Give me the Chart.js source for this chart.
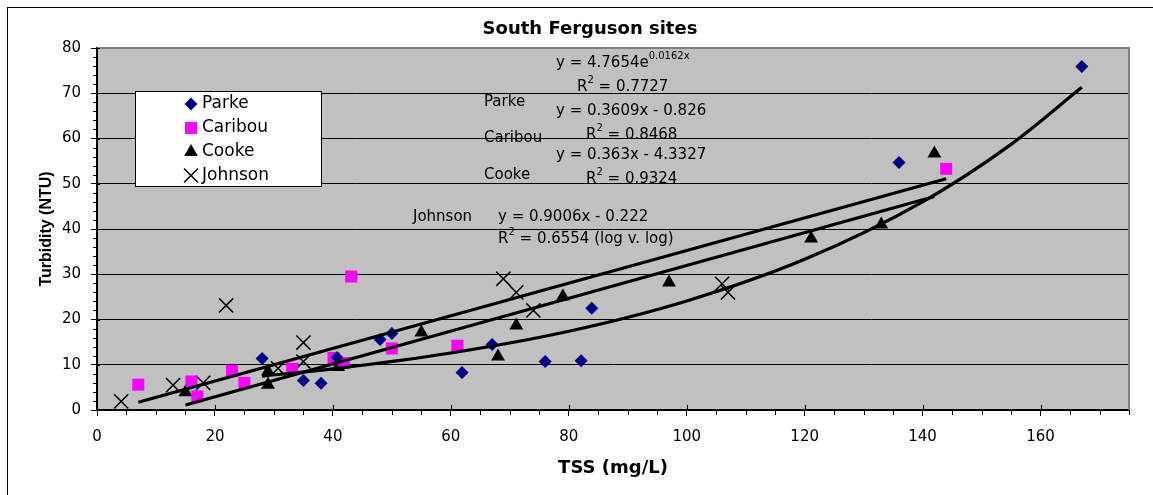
<!DOCTYPE html>
<html><head><meta charset="utf-8">
<script src="https://cdn.jsdelivr.net/npm/chart.js@4/dist/chart.umd.min.js"></script>
<style>html,body{margin:0;padding:0;background:#fff;}</style>
</head><body>
<canvas id="c" width="1153" height="495"></canvas>
<script>
// ---- data ----
const chartTitle = "South Ferguson sites";
const xTitle = "TSS (mg/L)";
const yTitle = "Turbidity (NTU)";
const seriesNames = ["Parke", "Caribou", "Cooke", "Johnson"];

const parkeX = [28, 35, 38, 40.7, 48, 50, 61.9, 67, 76, 82.1, 83.9, 136, 167];
const parkeY = [11.4, 6.5, 5.9, 11.6, 15.6, 16.9, 8.3, 14.5, 10.7, 10.9, 22.5, 54.7, 75.9];

const caribouX = [7, 16, 17, 22.9, 25, 33.1, 40.1, 41.9, 43.1, 50, 61.1, 144];
const caribouY = [5.6, 6.3, 3.0, 8.7, 6.0, 9.1, 11.5, 10.4, 29.5, 13.6, 14.2, 53.3];

const cookeX = [15, 29, 29, 40.9, 55, 68, 71.1, 79, 97, 121.1, 133, 142];
const cookeY = [3.9, 5.6, 8.5, 9.5, 17.1, 11.8, 18.7, 25.1, 28.2, 37.9, 41.0, 56.7];

const johnsonX = [4.1, 12.9, 18, 21.9, 30.7, 35, 35, 68.9, 71.1, 74, 106, 107];
const johnsonY = [1.9, 5.5, 6.0, 23.1, 9.2, 14.9, 10.7, 29.0, 26.0, 22.0, 27.9, 26.0];

// trendlines
const trendParkeX = [28, 40, 60, 80, 100, 120, 140, 155, 167];
const trendParkeY = [7.5, 9.1, 12.6, 17.4, 24.1, 33.3, 46.0, 58.7, 71.3];
const trendCaribouX = [7, 144];
const trendCaribouY = [1.7, 51.1];
const trendCookeX = [15, 142];
const trendCookeY = [1.1, 47.2];

const annotationTexts = [
  "y = 4.7654e^{0.0162x}",
  "R^{2} = 0.7727",
  "Parke",
  "y = 0.3609x - 0.826",
  "Caribou",
  "R^{2} = 0.8468",
  "y = 0.363x - 4.3327",
  "Cooke",
  "R^{2} = 0.9324",
  "Johnson",
  "y = 0.9006x - 0.222",
  "R^{2} = 0.6554 (log v. log)"
];

// ---- layout (positions of free text, in pixels) ----
const annotationPos = [
  [556, 63], [577, 87], [484, 102], [556, 111], [484, 138], [586, 135],
  [556, 155], [484, 175], [586, 179], [413, 217], [498, 217], [498, 239]
];

const pts = (xs, ys) => xs.map((x, i) => ({x: x, y: ys[i]}));

const FONT = '"DejaVu Sans", sans-serif';

function drawRich(ctx, str, x, y, size) {
  const parts = str.split(/\^\{([^}]*)\}/);
  let cx = x;
  ctx.textAlign = 'left';
  ctx.textBaseline = 'middle';
  ctx.fillStyle = '#000';
  parts.forEach((p, i) => {
    if (!p) return;
    if (i % 2 === 1) {
      ctx.font = Math.round(size * 0.68) + 'px ' + FONT;
      ctx.fillText(p, cx, y - size * 0.42);
    } else {
      ctx.font = size + 'px ' + FONT;
      ctx.fillText(p, cx, y);
    }
    cx += ctx.measureText(p).width;
  });
}

function drawMarker(ctx, style, x, y, color) {
  ctx.save();
  ctx.fillStyle = color; ctx.strokeStyle = color;
  ctx.beginPath();
  if (style === 'rectRot') {
    const r = 6.5;
    ctx.moveTo(x - r, y); ctx.lineTo(x, y - r); ctx.lineTo(x + r, y); ctx.lineTo(x, y + r); ctx.closePath(); ctx.fill();
  } else if (style === 'rect') {
    ctx.rect(x - 6, y - 6, 12, 12); ctx.fill();
  } else if (style === 'triangle') {
    ctx.moveTo(x, y - 8); ctx.lineTo(x + 6.9, y + 4); ctx.lineTo(x - 6.9, y + 4); ctx.closePath(); ctx.fill();
  } else {
    const h = 7; ctx.lineWidth = 1.5;
    ctx.moveTo(x - h, y - h); ctx.lineTo(x + h, y + h);
    ctx.moveTo(x + h, y - h); ctx.lineTo(x - h, y + h); ctx.stroke();
  }
  ctx.restore();
}

const markerStyles = ['rectRot', 'rect', 'triangle', 'crossRot'];
const markerColors = ['#000080', '#FF00FF', '#000000', '#000000'];

const deco = {
  id: 'deco',
  beforeDraw(chart) {
    const {ctx, chartArea: a} = chart;
    ctx.save();
    ctx.fillStyle = '#C0C0C0';
    ctx.fillRect(a.left, a.top, a.right - a.left, a.bottom - a.top);
    ctx.restore();
  },
  afterDraw(chart) {
    const {ctx, chartArea: a} = chart;
    const xs = chart.scales.x, ys = chart.scales.y;
    ctx.save();
    // outer frame
    ctx.strokeStyle = '#000'; ctx.lineWidth = 1;
    ctx.strokeRect(7.5, 7.5, 2000, 2000);
    // plot border top/right
    ctx.strokeStyle = '#808080'; ctx.lineWidth = 2;
    ctx.beginPath();
    ctx.moveTo(a.left, a.top); ctx.lineTo(a.right, a.top); ctx.lineTo(a.right, a.bottom);
    ctx.stroke();
    // minor ticks and inner part of major ticks
    ctx.strokeStyle = '#000'; ctx.lineWidth = 1;
    ctx.beginPath();
    for (let v = 0; v <= 175; v += 5) {
      const px = Math.round(xs.getPixelForValue(v)) + 0.5;
      if (v % 20 === 0) { ctx.moveTo(px, a.bottom - 5); ctx.lineTo(px, a.bottom); }
      else { ctx.moveTo(px, a.bottom); ctx.lineTo(px, a.bottom + 5); }
    }
    for (let v = 0; v <= 80; v += 2) {
      const py = Math.round(ys.getPixelForValue(v)) + 0.5;
      if (v % 10 === 0) { ctx.moveTo(a.left, py); ctx.lineTo(a.left + 3, py); }
      else { ctx.moveTo(a.left - 4, py); ctx.lineTo(a.left, py); }
    }
    ctx.stroke();
    // chart title
    ctx.fillStyle = '#000';
    ctx.font = 'bold 18px ' + FONT;
    ctx.textAlign = 'center'; ctx.textBaseline = 'middle';
    ctx.fillText(chartTitle, 590, 29);
    // legend
    ctx.fillStyle = '#fff';
    ctx.fillRect(136, 92, 186, 95);
    ctx.strokeStyle = '#000'; ctx.lineWidth = 1;
    ctx.strokeRect(135.5, 91.5, 186, 95);
    const rows = [104, 128, 152, 175.5];
    seriesNames.forEach((n, i) => {
      drawMarker(ctx, markerStyles[i], 191, rows[i], markerColors[i]);
      ctx.fillStyle = '#000';
      ctx.font = '17px ' + FONT;
      ctx.textAlign = 'left'; ctx.textBaseline = 'middle';
      ctx.fillText(n, 202, rows[i]);
    });
    // annotations
    annotationTexts.forEach((t, i) => drawRich(ctx, t, annotationPos[i][0], annotationPos[i][1], 15));
    ctx.restore();
  }
};

const trendStyle = {showLine: true, pointRadius: 0, borderColor: '#000', borderWidth: 3.2, fill: false, order: 0};

new Chart(document.getElementById('c'), {
  type: 'scatter',
  data: {
    datasets: [
      Object.assign({label: 'Parke trend', data: pts(trendParkeX, trendParkeY), cubicInterpolationMode: 'monotone'}, trendStyle),
      Object.assign({label: 'Caribou trend', data: pts(trendCaribouX, trendCaribouY)}, trendStyle),
      Object.assign({label: 'Cooke trend', data: pts(trendCookeX, trendCookeY)}, trendStyle),
      {label: seriesNames[0], data: pts(parkeX, parkeY), pointStyle: 'rectRot', pointRadius: 6.5,
       backgroundColor: '#000080', borderColor: '#000080', borderWidth: 0, order: 1},
      {label: seriesNames[1], data: pts(caribouX, caribouY), pointStyle: 'rect', pointRadius: 8.5,
       backgroundColor: '#FF00FF', borderColor: '#FF00FF', borderWidth: 0, order: 1},
      {label: seriesNames[2], data: pts(cookeX, cookeY), pointStyle: 'triangle', pointRadius: 8,
       backgroundColor: '#000', borderColor: '#000', borderWidth: 0, order: 1},
      {label: seriesNames[3], data: pts(johnsonX, johnsonY), pointStyle: 'crossRot', pointRadius: 10,
       backgroundColor: '#000', borderColor: '#000', borderWidth: 1.5, order: 1}
    ]
  },
  options: {
    responsive: false, animation: false, devicePixelRatio: 1,
    layout: {padding: {left: 0, top: 48, right: 24, bottom: 0}},
    plugins: {legend: {display: false}, tooltip: {enabled: false}, title: {display: false}},
    scales: {
      x: {
        type: 'linear', min: 0, max: 175,
        afterFit(s) { s.height = 85; },
        ticks: {stepSize: 20, includeBounds: false, maxRotation: 0, padding: 12, color: '#000',
                font: {family: 'DejaVu Sans', size: 15}},
        grid: {drawOnChartArea: false, drawTicks: true, tickLength: 6, tickColor: '#000', tickWidth: 1},
        border: {display: true, color: '#000', width: 2},
        title: {display: true, text: xTitle, color: '#000', padding: {top: 0, bottom: 16},
                font: {family: 'DejaVu Sans', size: 18, weight: 'bold'}}
      },
      y: {
        type: 'linear', min: 0, max: 80,
        afterFit(s) { s.width = 97; },
        ticks: {stepSize: 10, padding: 10, color: '#000', font: {family: 'DejaVu Sans', size: 15}},
        grid: {color: c => (c.tick && c.tick.value >= 80) ? 'rgba(0,0,0,0)' : '#000',
               lineWidth: 1, drawTicks: true, tickLength: 6, tickColor: '#000', tickWidth: 1},
        border: {display: true, color: '#000', width: 2},
        title: {display: true, text: yTitle, color: '#000', padding: {top: 37, bottom: 0},
                font: {family: 'Liberation Sans', size: 16, weight: 'bold'}}
      }
    }
  },
  plugins: [deco]
});
</script>
</body></html>
